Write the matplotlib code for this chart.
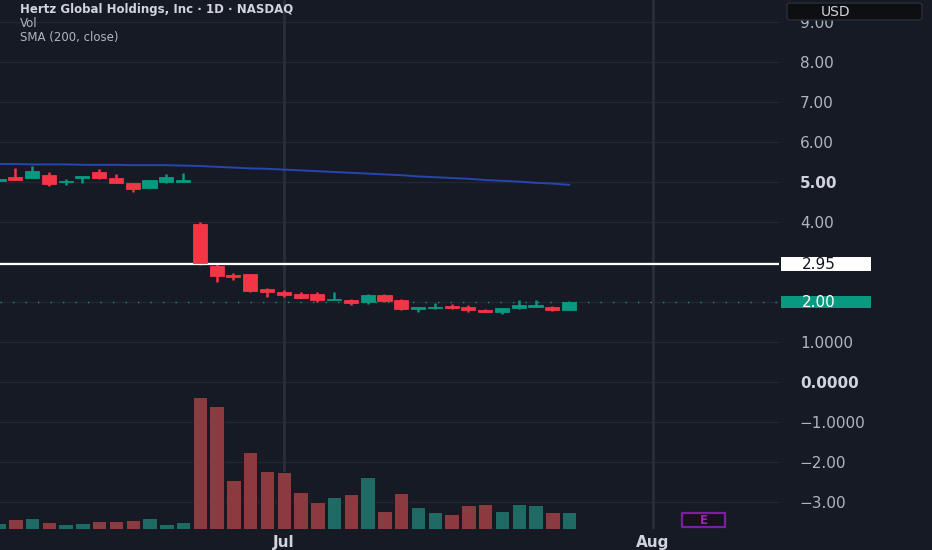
import matplotlib
matplotlib.use("Agg")
import matplotlib.pyplot as plt
import matplotlib.transforms as mtrans
from matplotlib.patches import Rectangle, FancyBboxPatch

# ---------------- data ----------------
opens = [5.03, 5.13, 5.11, 5.17, 4.99, 5.11, 5.25, 5.09, 4.98, 4.85, 5.00, 5.00,
         3.95, 2.91, 2.66, 2.70, 2.33, 2.24, 2.19, 2.19, 2.04, 2.06, 1.99, 2.17,
         2.04, 1.83, 1.84, 1.90, 1.87, 1.81, 1.76, 1.84, 1.88, 1.88, 1.80]
highs = [5.10, 5.36, 5.40, 5.24, 5.07, 5.16, 5.32, 5.20, 4.98, 5.05, 5.19, 5.22,
         3.99, 2.94, 2.73, 2.71, 2.35, 2.29, 2.26, 2.24, 2.24, 2.07, 2.19, 2.20,
         2.07, 1.88, 1.98, 1.96, 1.92, 1.82, 1.85, 2.05, 2.04, 1.89, 2.03]
lows = [5.01, 5.05, 5.09, 4.91, 4.92, 4.98, 5.07, 4.97, 4.74, 4.84, 4.97, 5.00,
        2.93, 2.51, 2.55, 2.26, 2.13, 2.12, 2.09, 2.01, 2.04, 1.93, 1.96, 2.01,
        1.81, 1.74, 1.83, 1.83, 1.75, 1.74, 1.69, 1.83, 1.88, 1.77, 1.79]
closes = [5.07, 5.06, 5.28, 4.96, 5.02, 5.12, 5.09, 4.97, 4.82, 5.04, 5.12, 5.02,
          2.98, 2.65, 2.63, 2.28, 2.24, 2.18, 2.11, 2.05, 2.08, 1.97, 2.17, 2.03,
          1.82, 1.85, 1.88, 1.86, 1.79, 1.76, 1.84, 1.93, 1.91, 1.80, 2.00]
volumes_m = [3.0, 4.8, 5.6, 3.6, 2.6, 2.8, 4.0, 3.8, 4.5, 5.6, 2.6, 3.3,
             66.0, 61.5, 24.6, 38.3, 29.0, 28.5, 18.6, 13.5, 15.8, 17.5, 26.0, 9.2,
             17.8, 11.0, 8.6, 7.6, 12.0, 12.5, 8.8, 12.3, 11.8, 8.3, 8.6]
sma200 = [5.45, 5.45, 5.44, 5.44, 5.44, 5.43, 5.43, 5.43, 5.42, 5.42, 5.42, 5.41,
          5.40, 5.38, 5.36, 5.34, 5.33, 5.31, 5.29, 5.27, 5.25, 5.23, 5.21, 5.19,
          5.17, 5.14, 5.12, 5.10, 5.08, 5.05, 5.03, 5.01, 4.98, 4.96, 4.93]
month_pos = [17, 39]
month_labels = ["Jul", "Aug"]
price_ticks = [9, 8, 7, 6, 5, 4, 3, 2, 1, 0, -1, -2, -3]
price_tick_labels = ["9.00", "8.00", "7.00", "6.00", "5.00", "4.00", "", "",
                     "1.0000", "0.0000", "\u22121.0000", "\u22122.00", "\u22123.00"]
hline_level = 2.95
last_price = 2.00

# ---------------- style ----------------
BG = "#161a25"
UP = "#089981"
DOWN = "#f23645"
VOL_UP = "#1f6a64"
VOL_DOWN = "#8b3a3f"
GRID = "#232733"
TXT = "#b2b5be"

W, H = 932, 550
fig = plt.figure(figsize=(W / 100, H / 100), dpi=100, facecolor=BG)
ax = fig.add_axes([0, 21 / H, 779 / W, 529 / H])
ax.set_facecolor(BG)
for s in ax.spines.values():
    s.set_visible(False)

n = len(opens)
idx = list(range(n))
colors = [UP if c >= o else DOWN for o, c in zip(opens, closes)]
vcolors = [VOL_UP if c >= o else VOL_DOWN for o, c in zip(opens, closes)]

# volume on twin axis
ax2 = ax.twinx()
ax2.bar(idx, volumes_m, width=0.86, color=vcolors, edgecolor="#11141c", linewidth=0.6, zorder=2)
ax2.set_ylim(0, 264.5)
ax2.axis("off")

# candles
ax.vlines(idx, lows, highs, colors=colors, linewidth=1.8, zorder=3)
bottoms = [min(o, c) for o, c in zip(opens, closes)]
heights = [max(abs(c - o), 0.04) for o, c in zip(opens, closes)]
ax.bar(idx, heights, bottom=bottoms, width=0.84, color=colors, edgecolor=colors,
       linewidth=0.6, zorder=4)

# SMA
ax.plot(idx, sma200, color="#2646b0", linewidth=1.4, zorder=3)

# horizontal line and last price line
ax.axhline(hline_level, color="white", linewidth=1.6, zorder=3)
ax.axhline(last_price, color=UP, linewidth=1.0, linestyle=(0, (1, 8)), zorder=2)

# grid
for v in price_ticks:
    ax.axhline(v, color=GRID, linewidth=1.0, zorder=0)
for m in month_pos:
    ax.axvline(m, color="#2a2e39", linewidth=2.0, zorder=0)

ax.set_xlim(0.089, 46.51)
ax.set_ylim(-3.675, 9.55)

# axes ticks
ax.set_xticks(month_pos)
ax.set_xticklabels(month_labels)
ax.tick_params(axis="x", length=0, pad=4, labelsize=11, labelcolor="#d1d4dc")
for t in ax.get_xticklabels():
    t.set_fontweight("bold")
ax.yaxis.tick_right()
ax.set_yticks(price_ticks)
ax.set_yticklabels(price_tick_labels)
ax.tick_params(axis="y", length=0, pad=15, labelsize=11, labelcolor=TXT)
for t in ax.get_yticklabels():
    t.set_horizontalalignment("left")
    if t.get_text() in ("5.00", "0.0000"):
        t.set_fontweight("bold")
        t.set_color("#d1d4dc")

# price label boxes
blend = mtrans.blended_transform_factory(ax.transAxes, ax.transData)
bx = 781 / 779
bw = 90 / 779
ax.add_patch(Rectangle((bx, hline_level - 0.165), bw, 0.33, transform=blend,
                       facecolor="white", edgecolor="none", clip_on=False, zorder=6))
ax.text(802 / 779, hline_level, "2.95", transform=blend, color="#131722", fontsize=11,
        ha="left", va="center", clip_on=False, zorder=7)
ax.add_patch(Rectangle((bx, last_price - 0.14), bw, 0.28, transform=blend,
                       facecolor=UP, edgecolor="none", clip_on=False, zorder=6))
ax.text(802 / 779, last_price, "2.00", transform=blend, color="white", fontsize=11,
        ha="left", va="center", clip_on=False, zorder=7)

# USD box
fig.add_artist(FancyBboxPatch((787 / W, 1 - 20 / H), 135 / W, 17 / H,
                              boxstyle="round,pad=0,rounding_size=0.004",
                              transform=fig.transFigure, facecolor="#0e0f13",
                              edgecolor="#2a2e39", linewidth=1.0, zorder=5))
fig.text(836 / W, 1 - 11.5 / H, "USD", color="#d1d4dc", fontsize=10,
         ha="center", va="center", zorder=6)

# Earnings marker
fig.add_artist(Rectangle((682 / W, 23 / H), 43 / W, 14 / H, transform=fig.transFigure,
                         facecolor="#15121c", edgecolor="#7b1fa2", linewidth=1.6, zorder=5))
fig.text(703.5 / W, 30 / H, "E", color="#9c27b0", fontsize=8.5, fontweight="bold",
         ha="center", va="center", zorder=6)

# legend texts
fig.text(20 / W, 1 - 10 / H, "Hertz Global Holdings, Inc \u00b7 1D \u00b7 NASDAQ",
         color="#d1d4dc", fontsize=8.5, fontweight="bold", ha="left", va="center")
fig.text(20 / W, 1 - 23.5 / H, "Vol", color=TXT, fontsize=8.5, ha="left", va="center")
fig.text(20 / W, 1 - 37 / H, "SMA (200, close)", color=TXT, fontsize=8.5,
         ha="left", va="center")

fig.savefig("out.png", dpi=100, facecolor=BG)
